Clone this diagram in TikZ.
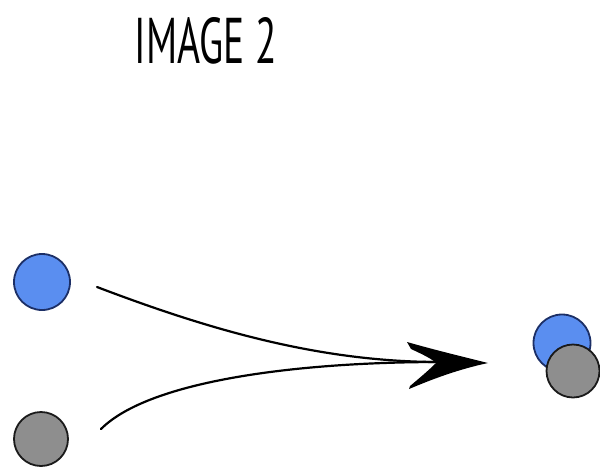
\documentclass[tikz,border=0pt]{standalone}
\usepackage{fontspec}
\setmainfont{PT Sans}
\usepackage{graphicx}
\definecolor{bluefill}{HTML}{5A8EF0}
\definecolor{blueline}{HTML}{1C2F66}
\definecolor{grayfill}{HTML}{8E8E8E}
\definecolor{grayline}{HTML}{1A1A1A}
\begin{document}
\begin{tikzpicture}[x=1pt,y=-1pt,
  bluedot/.style={circle,draw=blueline,fill=bluefill,line width=1.8pt,inner sep=0pt},
  graydot/.style={circle,draw=grayline,fill=grayfill,line width=1.8pt,inner sep=0pt},
  flow/.style={line width=2.2pt,line cap=round}]
\useasboundingbox (0,0) rectangle (600,469);
\node (title) at (206,41) {\resizebox{142pt}{46pt}{IMAGE 2}};
\node[bluedot,minimum size=56pt] (b1) at (42,282) {};
\node[graydot,minimum size=54pt] (g1) at (41,439) {};
\node[bluedot,minimum size=57pt] (b2) at (562,343) {};
\node[graydot,minimum size=53pt] (g2) at (573,371) {};
\coordinate (s1) at (97,287);
\coordinate (s2) at (101,429);
\coordinate (m) at (440,362);
\draw[flow] (s1) .. controls (210,330) and (320,362) .. (m);
\draw[flow] (s2) .. controls (150,380) and (300,362) .. (m);
\coordinate (tip) at (488,363);
\fill (tip) .. controls (460,356) and (435,350) .. (407,342)
  -- (411,349)
  .. controls (424,355) and (432,359) .. (436,363)
  .. controls (430,369) and (422,376) .. (410,386)
  -- (409,389)
  .. controls (435,378) and (460,369) .. (tip) -- cycle;
\end{tikzpicture}
\end{document}
